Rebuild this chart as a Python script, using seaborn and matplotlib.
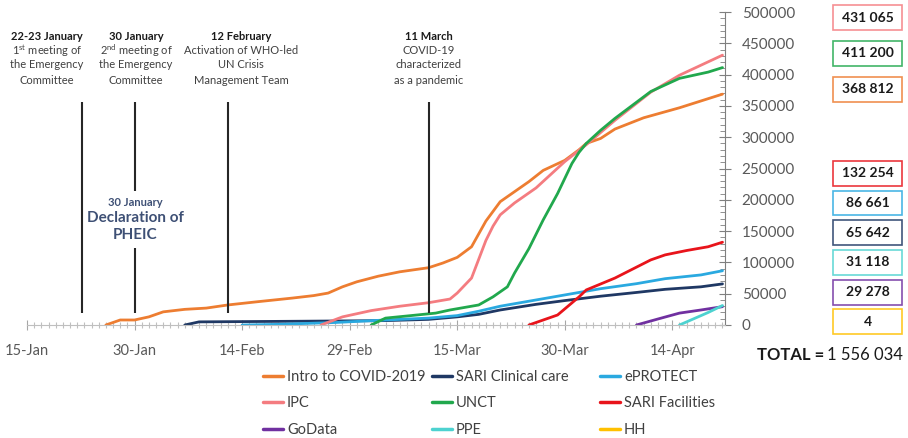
import matplotlib
matplotlib.use("Agg")
import matplotlib.pyplot as plt
import matplotlib.dates as mdates
from matplotlib.patches import Rectangle
from matplotlib.ticker import MultipleLocator, StrMethodFormatter
import seaborn as sns
import pandas as pd

start = pd.Timestamp("2020-01-15")

series_names = ["Intro to COVID-2019", "SARI Clinical care", "ePROTECT",
                "IPC", "UNCT", "SARI Facilities", "GoData", "PPE", "HH"]
series_colors = ["#ED7D31", "#1F3864", "#2AA9E0", "#F47C80", "#21A84D",
                 "#E8141B", "#7030A0", "#4DD2D0", "#FFC000"]

# days after 15 Jan / cumulative enrolments
intro_days = [11, 13, 15, 17, 19, 22, 25, 28, 32, 37, 40, 42, 44, 46, 49, 52, 56,
              58, 60, 62, 64, 66, 68, 70, 72, 75, 77, 78, 80, 82, 86, 91, 97]
intro_vals = [0, 8000, 8000, 13000, 21000, 25000, 27000, 32000, 37000, 43000, 47000,
              51000, 61000, 69000, 78000, 85000, 91500, 99000, 108000, 125000, 166000,
              197000, 213000, 229000, 247000, 263000, 280000, 290000, 298000, 313000,
              331000, 347000, 368812]
sari_cc_days = [22, 24, 38, 50, 56, 60, 63, 66, 71, 75, 80, 85, 89, 94, 97]
sari_cc_vals = [0, 5000, 6000, 7000, 9000, 13000, 17000, 24000, 33000, 39000, 46000,
                52000, 57000, 61000, 65642]
eprotect_days = [30, 35, 43, 50, 56, 60, 63, 66, 71, 75, 80, 85, 89, 94, 97]
eprotect_vals = [0, 1000, 4000, 8000, 11000, 15000, 22000, 30000, 40000, 48000, 58000,
                 66000, 74000, 80000, 86661]
ipc_days = [41, 44, 48, 52, 56, 59, 60, 62, 63, 64, 65, 66, 68, 71, 73, 75, 78, 82, 87, 91, 97]
ipc_vals = [0, 13000, 23000, 30000, 35600, 41500, 51000, 75000, 105000, 135000, 158000,
            176000, 195000, 219000, 240000, 261000, 288000, 327000, 372000, 399000, 431065]
unct_days = [48, 50, 53, 57, 59, 61, 63, 65, 67, 68, 70, 72, 74, 76, 77, 78, 80, 82,
             87, 91, 95, 97]
unct_vals = [0, 11000, 14400, 19000, 24000, 28000, 32000, 45000, 61000, 83000, 122000,
             168000, 210000, 258000, 276000, 290000, 311000, 330000, 373000, 394000,
             404000, 411200]
sari_fac_days = [70, 74, 77, 78, 82, 87, 89, 92, 95, 97]
sari_fac_vals = [0, 16000, 45000, 56000, 75000, 104000, 112000, 119000, 125000, 132254]
godata_days = [85, 88, 91, 94, 97]
godata_vals = [0, 9600, 19000, 24000, 29278]
ppe_days = [91, 93, 95, 97]
ppe_vals = [0, 10000, 20000, 31118]
hh_days = [97]
hh_vals = [4]

all_days = [intro_days, sari_cc_days, eprotect_days, ipc_days, unct_days,
            sari_fac_days, godata_days, ppe_days, hh_days]
all_vals = [intro_vals, sari_cc_vals, eprotect_vals, ipc_vals, unct_vals,
            sari_fac_vals, godata_vals, ppe_vals, hh_vals]

tick_labels = ["15-Jan", "30-Jan", "14-Feb", "29-Feb", "15-Mar", "30-Mar", "14-Apr"]
tick_dates = pd.to_datetime(["2020-01-15", "2020-01-30", "2020-02-14", "2020-02-29",
                             "2020-03-15", "2020-03-30", "2020-04-14"])

event_dates = pd.to_datetime(["2020-01-22 16:00", "2020-01-30 00:00",
                              "2020-02-12 00:00", "2020-03-11 00:00"])
event_texts = [["22-23 January", "1$^{st}$ meeting of", "the Emergency", "Committee"],
               ["30 January", "2$^{nd}$ meeting of", "the Emergency", "Committee"],
               ["12 February", "Activation of WHO-led", "UN Crisis", "Management Team"],
               ["11 March", "COVID-19", "characterized", "as a pandemic"]]

rows = []
for name, days, vals in zip(series_names, all_days, all_vals):
    for d, v in zip(days, vals):
        rows.append((name, start + pd.Timedelta(days=d), v))
df = pd.DataFrame(rows, columns=["course", "date", "enrolled"])

sns.set_style("white")
plt.rcParams["font.family"] = ["Lato", "DejaVu Sans"]
plt.rcParams["mathtext.default"] = "regular"

W, H = 908, 438
fig = plt.figure(figsize=(W / 100, H / 100), dpi=100)
ax = fig.add_axes([27 / W, 1 - 325 / H, 698 / W, 313 / H])

sns.lineplot(data=df, x="date", y="enrolled", hue="course", hue_order=series_names,
             palette=series_colors, linewidth=2, estimator=None, ax=ax)

leg = ax.get_legend()
handles = list(leg.legend_handles)
labels = [t.get_text() for t in leg.get_texts()]
leg.remove()
for h in handles:
    h.set_linewidth(2.5)

ax.set_xlim(start, start + pd.Timedelta(days=97.35))
ax.set_ylim(0, 500000)
ax.set_xlabel("")
ax.set_ylabel("")

ax.set_xticks(tick_dates, tick_labels)
ax.xaxis.set_minor_locator(mdates.DayLocator())
ax.yaxis.tick_right()
ax.yaxis.set_major_locator(MultipleLocator(50000))
ax.yaxis.set_minor_locator(MultipleLocator(10000))
ax.yaxis.set_major_formatter(StrMethodFormatter("{x:.0f}"))

for s in ["left", "top"]:
    ax.spines[s].set_visible(False)
ax.spines["bottom"].set_color("#BFBFBF")
ax.spines["right"].set_color("#7F7F7F")
ax.tick_params(axis="x", which="major", direction="inout", length=7, color="#A6A6A6",
               labelcolor="#595959", labelsize=10.5, pad=10, bottom=True)
ax.tick_params(axis="x", which="minor", direction="inout", length=4, width=0.8,
               color="#C0C0C0", bottom=True)
ax.tick_params(axis="y", which="major", direction="inout", length=8, color="#7F7F7F",
               labelcolor="#595959", labelsize=11, pad=8, left=False, right=True)
ax.tick_params(axis="y", which="minor", direction="in", length=3.5, color="#7F7F7F",
               left=False, right=True)

# event markers
xt = ax.get_xaxis_transform()
ax.vlines(event_dates[[0, 2, 3]], 0.038, 0.7125, color="#262626", lw=1.5, transform=xt)
ax.vlines(event_dates[1], 0.428, 0.7125, color="#262626", lw=1.5, transform=xt)
ax.vlines(event_dates[1], 0.038, 0.247, color="#262626", lw=1.5, transform=xt)

text_x = [47, 136, 241, 429]
row_y = [36, 51, 65, 80]
for cx, lines in zip(text_x, event_texts):
    for i, (ty, line) in enumerate(zip(row_y, lines)):
        fig.text(cx / W, 1 - ty / H, line, ha="center", va="center",
                 fontsize=8, fontweight="bold" if i == 0 else "normal",
                 color="#1A1A1A" if i == 0 else "#404040")

pheic_color = "#3E5075"
fig.text(135 / W, 1 - 203 / H, "30 January", ha="center", va="center",
         fontsize=8, fontweight="bold", color=pheic_color)
fig.text(135 / W, 1 - 218 / H, "Declaration of", ha="center", va="center",
         fontsize=11, fontweight="bold", color=pheic_color)
fig.text(135 / W, 1 - 235 / H, "PHEIC", ha="center", va="center",
         fontsize=11, fontweight="bold", color=pheic_color)

# final totals boxes
finals = [v[-1] for v in all_vals]
order = sorted(range(len(finals)), key=lambda i: -finals[i])
box_y = [17.5, 53, 89, 173, 203, 232.7, 262.5, 292, 321.7]
for i, cy in zip(order, box_y):
    fig.add_artist(Rectangle((833 / W, 1 - (cy + 12.5) / H), 69 / W, 25 / H,
                             transform=fig.transFigure, facecolor="white",
                             edgecolor=series_colors[i], lw=1.2, alpha=0.85))
    fig.text(867.5 / W, 1 - cy / H, f"{finals[i]:,}".replace(",", " "),
             ha="center", va="center", fontsize=10, fontweight="bold", color="#1A1A1A")

fig.text(824 / W, 1 - 355 / H, "TOTAL =", ha="right", va="center",
         fontsize=12, fontweight="bold", color="#1A1A1A")
fig.text(903 / W, 1 - 355 / H, f"{sum(finals):,}".replace(",", " "), ha="right",
         va="center", fontsize=12, color="#1A1A1A")

# legend, three fixed-width columns like the original
col_x = [263, 432, 600]
for c in range(3):
    idx = [c, c + 3, c + 6]
    lg = fig.legend([handles[i] for i in idx], [labels[i] for i in idx],
                    loc="upper left", bbox_to_anchor=(col_x[c] / W, 1 - 370 / H),
                    frameon=False, borderpad=0, borderaxespad=0, handlelength=1.4,
                    handletextpad=0.25, labelspacing=0.85, fontsize=10.5,
                    labelcolor="#404040")

fig.savefig("out.png", dpi=100)
